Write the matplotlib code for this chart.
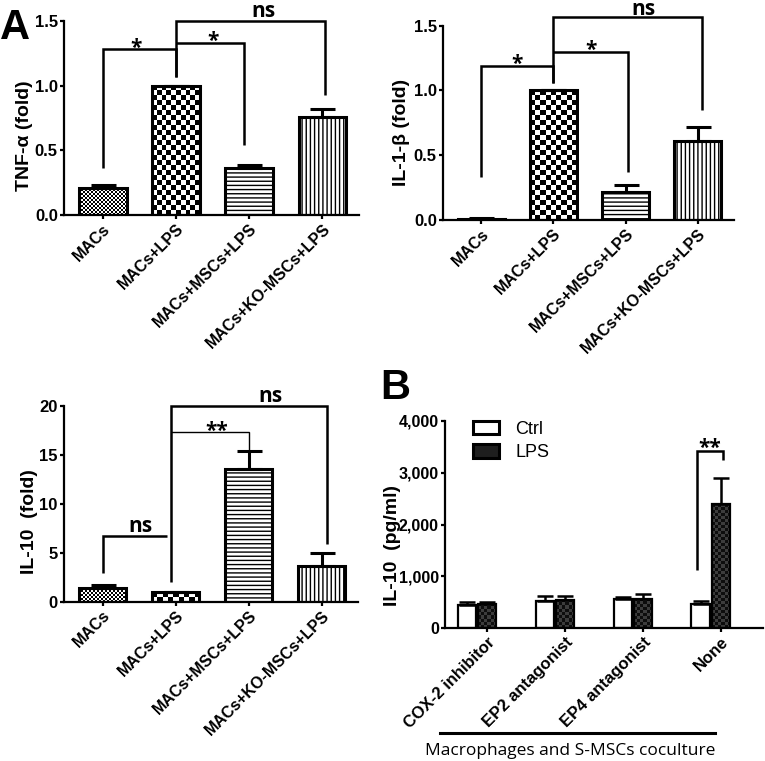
import matplotlib
matplotlib.use('Agg')
import matplotlib.pyplot as plt
import numpy as np
from matplotlib.colors import ListedColormap
from matplotlib.patches import Patch
from matplotlib.ticker import FuncFormatter, FormatStrFormatter

plt.rcParams['font.family'] = ['Liberation Sans', 'DejaVu Sans']
plt.rcParams['font.weight'] = 'bold'
plt.rcParams['hatch.linewidth'] = 1.0

# panel A data
groups = ['MACs', 'MACs+LPS', 'MACs+MSCs+LPS', 'MACs+KO-MSCs+LPS']
tnf = [0.21, 1.0, 0.36, 0.76]
tnf_err = [0.02, 0.0, 0.03, 0.06]
il1b = [0.008, 1.0, 0.22, 0.61]
il1b_err = [0.004, 0.0, 0.05, 0.11]
il10 = [1.4, 1.0, 13.6, 3.6]
il10_err = [0.3, 0.0, 1.8, 1.4]

# panel B data
treatments = ['COX-2 inhibitor', 'EP2 antagonist', 'EP4 antagonist', 'None']
ctrl = [440, 535, 560, 465]
ctrl_err = [63, 96, 51, 64]
lps = [465, 548, 572, 2390]
lps_err = [37, 83, 84, 515]

ANN = ['Open Sans', 'DejaVu Sans']


def checker(ax, bar, cell, c1, c2):
    x0, w, h = bar.get_x(), bar.get_width(), bar.get_height()
    if h <= 0:
        return
    p0 = ax.transData.transform((x0, 0))
    p1 = ax.transData.transform((x0 + w, h))
    nx = max(1, int(round(abs(p1[0] - p0[0]) / cell)))
    ny = max(1, int(round(abs(p1[1] - p0[1]) / cell)))
    arr = np.add.outer(np.arange(ny), np.arange(nx)) % 2
    ax.imshow(arr, extent=(x0, x0 + w, 0, h), cmap=ListedColormap([c1, c2]),
              vmin=0, vmax=1, aspect='auto', interpolation='nearest', zorder=1)


def style(ax, size=12):
    for s in ['top', 'right']:
        ax.spines[s].set_visible(False)
    for s in ['left', 'bottom']:
        ax.spines[s].set_linewidth(1.6)
    ax.tick_params(width=1.6, length=3, labelsize=size, pad=1.5)


def bracket(ax, xs, ys, lw=1.8):
    ax.plot(xs, ys, color='k', lw=lw, clip_on=False, solid_capstyle='butt',
            solid_joinstyle='miter', zorder=5)


def mark(ax, x, y, s, size=15, dy=2):
    ax.annotate(s, (x, y), xytext=(0, dy), textcoords='offset points',
                ha='center', va='baseline', fontsize=size, fontweight='bold',
                family=ANN, annotation_clip=False)


def panel_a(rect, vals, errs, ylim, yticks, fmt, ylabel, lab_xy):
    ax = fig.add_axes(rect)
    x = np.arange(len(groups))
    ax.set_xlim(-0.53, 3.5)
    ax.set_ylim(*ylim)
    bars = ax.bar(x, vals, width=0.65, facecolor='none', edgecolor='k',
                  linewidth=2.2, zorder=2)
    bars[2].set_hatch('----')
    bars[3].set_hatch('||||')
    checker(ax, bars[0], 2, 'black', 'white')
    checker(ax, bars[1], 5, 'black', 'white')
    ax.errorbar(x, vals, yerr=[np.zeros(len(errs)), errs], fmt='none',
                ecolor='k', elinewidth=2.2, capsize=9, capthick=2.2, zorder=3)
    ax.set_xlim(-0.53, 3.5)
    ax.set_ylim(*ylim)
    ax.set_yticks(yticks)
    ax.yaxis.set_major_formatter(fmt)
    ax.set_xticks(x)
    ax.set_xticklabels(groups, rotation=45, ha='right', rotation_mode='anchor')
    ax.set_ylabel(ylabel, fontsize=14, fontweight='bold')
    ax.yaxis.set_label_coords(*lab_xy)
    style(ax)
    ax.tick_params(axis='x', labelsize=11.5)
    return ax


fig = plt.figure(figsize=(7.65, 7.61), dpi=100)

# TNF-a
ax1 = panel_a([0.0837, 0.7175, 0.3856, 0.2549], tnf, tnf_err, (0, 1.5),
              [0, 0.5, 1.0, 1.5], FormatStrFormatter('%.1f'), 'TNF-α (fold)',
              (-0.105, 0.41))
bracket(ax1, [0, 0, 1, 1], [0.36, 1.28, 1.28, 1.07])
bracket(ax1, [1, 1.93, 1.93], [1.33, 1.33, 0.54])
bracket(ax1, [1, 1, 3.03, 3.03], [1.07, 1.5, 1.5, 0.93])
mark(ax1, 0.46, 1.28, '*', dy=-3)
mark(ax1, 1.5, 1.33, '*', dy=-3)
mark(ax1, 2.2, 1.5, 'ns', dy=3)

# IL-1b
ax2 = panel_a([0.5791, 0.7109, 0.3804, 0.2553], il1b, il1b_err, (0, 1.5),
              [0, 0.5, 1.0, 1.5], FormatStrFormatter('%.1f'), 'IL-1-β (fold)',
              (-0.112, 0.45))
bracket(ax2, [0, 0, 1, 1], [0.33, 1.19, 1.19, 1.06])
bracket(ax2, [1, 2.03, 2.03], [1.30, 1.30, 0.37])
bracket(ax2, [1, 1, 3.05, 3.05], [1.06, 1.57, 1.57, 0.85])
mark(ax2, 0.5, 1.19, '*', dy=-3)
mark(ax2, 1.52, 1.30, '*', dy=-3)
mark(ax2, 2.24, 1.57, 'ns', dy=1.5)

# IL-10
ax3 = panel_a([0.0837, 0.2093, 0.3843, 0.2572], il10, il10_err, (0, 20),
              [0, 5, 10, 15, 20], FormatStrFormatter('%d'), 'IL-10  (fold)',
              (-0.087, 0.41))
bracket(ax3, [0, 0, 0.88], [2.9, 6.7, 6.7])
bracket(ax3, [0.94, 0.94, 3.07, 3.07], [2.0, 20, 20, 5.9])
bracket(ax3, [0.94, 2.0, 2.0], [17.3, 17.3, 15.3], lw=1.0)
mark(ax3, 0.52, 6.7, 'ns', dy=3)
mark(ax3, 2.3, 20, 'ns', dy=3)
mark(ax3, 1.57, 17.3, '**', dy=-3)

# panel B
ax4 = fig.add_axes([0.5817, 0.1744, 0.4157, 0.2724])
xb = np.arange(len(treatments))
ax4.set_xlim(-0.54, 3.54)
ax4.set_ylim(0, 4000)
b1 = ax4.bar(xb - 0.26, ctrl, width=0.236, facecolor='white', edgecolor='k',
             linewidth=1.6, zorder=2)
b2 = ax4.bar(xb, lps, width=0.236, facecolor='none', edgecolor='k',
             linewidth=1.6, zorder=2)
for b in b2:
    checker(ax4, b, 3, '#0d0d0d', '#3c3c3c')
ax4.errorbar(xb - 0.26, ctrl, yerr=[np.zeros(4), ctrl_err], fmt='none',
             ecolor='k', elinewidth=1.8, capsize=6, capthick=1.8, zorder=3)
ax4.errorbar(xb, lps, yerr=[np.zeros(4), lps_err], fmt='none',
             ecolor='k', elinewidth=1.8, capsize=6, capthick=1.8, zorder=3)
ax4.set_xlim(-0.54, 3.54)
ax4.set_ylim(0, 4000)
ax4.set_yticks([0, 1000, 2000, 3000, 4000])
ax4.yaxis.set_major_formatter(FuncFormatter(lambda v, p: f'{v:,.0f}'))
ax4.set_xticks(xb)
ax4.set_xticklabels(treatments, rotation=45, ha='right', rotation_mode='anchor')
ax4.set_ylabel('IL-10  (pg/ml)', fontsize=14, fontweight='bold')
ax4.yaxis.set_label_coords(-0.137, 0.40)
style(ax4, 11.5)
ax4.tick_params(axis='x', labelsize=12)
bracket(ax4, [2.69, 2.69, 3.03, 3.03], [1125, 3420, 3420, 3250])
mark(ax4, 2.86, 3420, '**', dy=-2)

handles = [Patch(facecolor='white', edgecolor='k', linewidth=2.2, label='Ctrl'),
           Patch(facecolor='#1e1e1e', edgecolor='k', linewidth=2.2, label='LPS')]
leg = ax4.legend(handles=handles, loc='upper left', bbox_to_anchor=(0.088, 1.0),
                 frameon=False, prop={'size': 13, 'weight': 'normal'},
                 handlelength=1.45, handleheight=0.75, labelspacing=0.35,
                 handletextpad=0.9, borderaxespad=0, borderpad=0)

fig.add_artist(plt.Line2D([440 / 765, 715 / 765], [1 - 733 / 761, 1 - 733 / 761],
                          color='k', lw=2.2))
fig.text(570 / 765, 1 - 751 / 761, 'Macrophages and S-MSCs coculture',
         ha='center', va='center', fontsize=12.5, fontweight='normal',
         family=['Open Sans', 'DejaVu Sans'])

fig.text(0.0, 1 - 8 / 761, 'A', fontsize=30, fontweight='bold', va='top')
fig.text(380 / 765, 1 - 368 / 761, 'B', fontsize=30, fontweight='bold', va='top')

fig.savefig('out.png', dpi=100)
